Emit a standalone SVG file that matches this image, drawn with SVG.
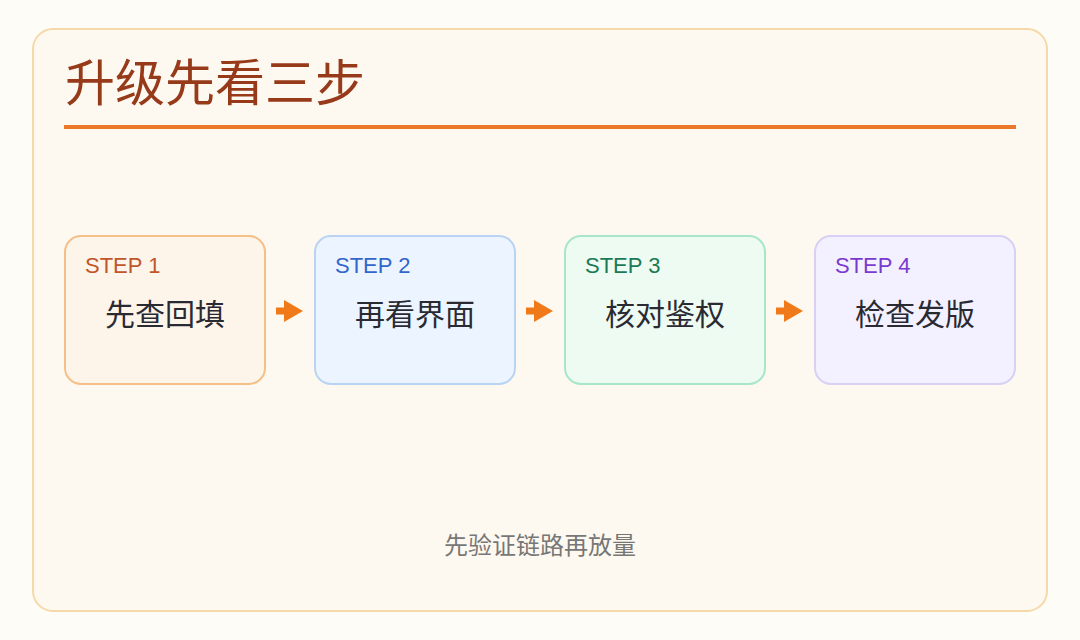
<svg xmlns="http://www.w3.org/2000/svg" width="1080" height="640" viewBox="0 0 1080 640">
<style>
.step{font-family:"Liberation Sans","Noto Sans",sans-serif;font-size:22px}
.lbl{font-family:"Noto Sans CJK SC",sans-serif;font-size:30px;fill:#2a2a33;text-anchor:middle}
.conn{stroke:#f07a1a;stroke-width:7;fill:none}
</style>
<defs>
<marker id="ah" markerWidth="20" markerHeight="24" refX="4" refY="12" orient="auto" markerUnits="userSpaceOnUse">
<path d="M0,1 L19,12 L0,23 Z" fill="#f07a1a"/>
</marker>
</defs>
<rect x="0" y="0" width="1080" height="640" fill="#fefcf7"/>
<rect x="33" y="29" width="1014" height="582" rx="20" fill="#fef9f0" stroke="#f5d9a8" stroke-width="2"/>
<g id="title">
<text x="65" y="101" font-family="Noto Sans CJK SC, sans-serif" font-size="50" fill="#963a1a">升级先看三步</text>
<line x1="64" y1="127" x2="1016" y2="127" stroke="#ea7a2a" stroke-width="4"/>
</g>
<g id="step1">
<rect x="65" y="236" width="200" height="148" rx="16" fill="#fdf5ea" stroke="#f4c088" stroke-width="2"/>
<text class="step" x="85" y="273" fill="#c0562a">STEP 1</text>
<text class="lbl" x="165" y="325">先查回填</text>
</g>
<g id="step2">
<rect x="315" y="236" width="200" height="148" rx="16" fill="#ecf4ff" stroke="#b9d4f2" stroke-width="2"/>
<text class="step" x="335" y="273" fill="#3366cc">STEP 2</text>
<text class="lbl" x="415" y="325">再看界面</text>
</g>
<g id="step3">
<rect x="565" y="236" width="200" height="148" rx="16" fill="#edfbf3" stroke="#a8e6c8" stroke-width="2"/>
<text class="step" x="585" y="273" fill="#1a7a55">STEP 3</text>
<text class="lbl" x="665" y="325">核对鉴权</text>
</g>
<g id="step4">
<rect x="815" y="236" width="200" height="148" rx="16" fill="#f3f1ff" stroke="#d8d0f5" stroke-width="2"/>
<text class="step" x="835" y="273" fill="#7a3ad0">STEP 4</text>
<text class="lbl" x="915" y="325">检查发版</text>
</g>
<g id="connectors">
<line class="conn" x1="276" y1="311" x2="288" y2="311" marker-end="url(#ah)"/>
<line class="conn" x1="526" y1="311" x2="538" y2="311" marker-end="url(#ah)"/>
<line class="conn" x1="776" y1="311" x2="788" y2="311" marker-end="url(#ah)"/>
</g>
<text x="540" y="554" font-family="Noto Sans CJK SC, sans-serif" font-size="24" fill="#777777" text-anchor="middle">先验证链路再放量</text>
</svg>
